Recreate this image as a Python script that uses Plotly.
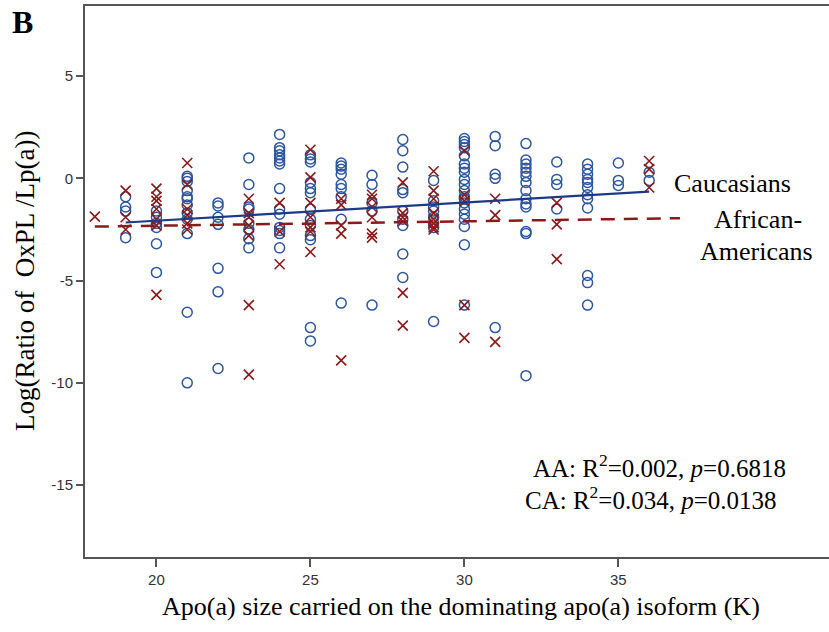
import plotly.graph_objects as go

# Caucasians (CA): apo(a) size (K) and log ratio of OxPL/Lp(a)
ca_size = [
    19, 19, 19, 19,
    20, 20, 20, 20, 20, 20,
    21, 21, 21, 21, 21, 21, 21, 21, 21, 21, 21, 21,
    22, 22, 22, 22, 22, 22, 22,
    23, 23, 23, 23, 23, 23, 23, 23,
    24, 24, 24, 24, 24, 24, 24, 24, 24, 24, 24, 24, 24, 24,
    25, 25, 25, 25, 25, 25, 25, 25, 25, 25, 25, 25, 25,
    26, 26, 26, 26, 26, 26, 26, 26, 26,
    27, 27, 27, 27, 27,
    28, 28, 28, 28, 28, 28, 28, 28, 28, 28,
    29, 29, 29, 29, 29, 29, 29, 29,
    30, 30, 30, 30, 30, 30, 30, 30, 30, 30, 30, 30, 30, 30, 30, 30, 30, 30, 30, 30,
    31, 31, 31, 31, 31,
    32, 32, 32, 32, 32, 32, 32, 32, 32, 32, 32, 32, 32, 32,
    33, 33, 33, 33,
    34, 34, 34, 34, 34, 34, 34, 34, 34, 34, 34, 34,
    35, 35, 35,
    36, 36,
]
ca_ratio = [
    -0.9, -1.4, -1.6, -2.9,
    -1.6, -1.9, -2.2, -2.4, -3.2, -4.6,
    0.1, 0.0, -0.15, -0.6, -0.9, -1.0, -1.3, -1.7, -2.0, -2.7, -6.55, -10.0,
    -1.2, -1.35, -1.9, -2.25, -4.4, -5.55, -9.3,
    1.0, -0.3, -1.4, -1.5, -2.2, -2.5, -2.95, -3.4,
    2.15, 1.5, 1.35, 1.15, 1.0, 0.85, 0.7, -0.5, -1.5, -1.75, -2.4, -2.55, -2.7, -3.4,
    1.15, 0.95, 0.8, -0.2, -0.5, -0.7, -1.5, -2.0, -2.3, -2.8, -3.0, -7.3, -7.95,
    0.75, 0.6, 0.45, 0.2, -0.3, -0.5, -0.9, -2.0, -6.1,
    0.15, -0.3, -1.2, -1.6, -6.2,
    1.9, 1.35, 0.55, -0.55, -0.7, -1.6, -2.0, -2.3, -3.7, -4.85,
    -0.1, -1.1, -1.4, -1.6, -1.9, -2.2, -2.4, -7.0,
    1.95, 1.8, 1.65, 1.5, 1.1, 0.7, 0.5, 0.3, -0.05, -0.3, -0.6, -0.9, -1.0, -1.2, -1.5, -1.75, -2.0, -2.35, -3.25, -6.2,
    2.05, 1.6, 0.2, 0.0, -7.3,
    1.7, 0.9, 0.7, 0.5, 0.3, 0.1, -0.2, -0.6, -1.0, -1.25, -1.4, -2.6, -2.7, -9.65,
    0.8, -0.05, -0.3, -1.5,
    0.7, 0.45, 0.2, -0.05, -0.2, -0.45, -0.8, -1.0, -1.45, -4.75, -5.1, -6.2,
    0.75, -0.1, -0.35,
    0.3, -0.1,
]

# African-Americans (AA)
aa_size = [
    18,
    19, 19, 19,
    20, 20, 20, 20, 20, 20, 20,
    21, 21, 21, 21, 21, 21,
    23, 23, 23, 23, 23, 23, 23,
    24, 24, 24,
    25, 25, 25, 25, 25, 25, 25,
    26, 26, 26, 26, 26,
    27, 27, 27, 27, 27, 27,
    28, 28, 28, 28, 28, 28,
    29, 29, 29, 29, 29, 29, 29, 29,
    30, 30, 30, 30, 30,
    31, 31, 31,
    33, 33, 33,
    36, 36, 36,
]
aa_ratio = [
    -1.87,
    -0.6, -1.9, -2.5,
    -0.5, -0.9, -1.1, -1.5, -2.0, -2.3, -5.7,
    0.75, -0.3, -1.5, -1.8, -2.2, -2.5,
    -1.0, -1.7, -1.9, -2.3, -2.8, -6.2, -9.6,
    -1.2, -2.6, -4.2,
    1.4, 0.05, -1.2, -1.9, -2.4, -2.6, -3.6,
    -1.0, -1.3, -2.3, -2.7, -8.9,
    -0.8, -1.0, -1.4, -1.9, -2.7, -2.9,
    -0.2, -1.7, -1.9, -2.1, -5.6, -7.2,
    0.35, -0.6, -1.0, -1.7, -2.0, -2.2, -2.4, -2.5,
    1.35, -0.8, -1.1, -6.2, -7.8,
    -1.0, -1.8, -8.0,
    -1.2, -2.25, -3.95,
    0.85, 0.45, -0.45,
]

# Regression fits (end points)
ca_fit_x = [19, 36]
ca_fit_y = [-2.16, -0.65]
aa_fit_x = [18, 37]
aa_fit_y = [-2.36, -1.95]

x_ticks = [20, 25, 30, 35]
x_tick_labels = ["20", "25", "30", "35"]
y_ticks = [5, 0, -5, -10, -15]
y_tick_labels = ["5", "0", "-5", "-10", "-15"]

BLUE = "#2c569e"
NAVY = "#1c3a86"
RED = "#8b1a1a"
SERIF = "Liberation Serif, Times New Roman, serif"
SANS = "Liberation Sans, Arial, sans-serif"
FS = 26

L, R, T, B = 85, 0, 6, 75
W, H = 829, 632
pw, ph = W - L - R, H - T - B


def px_to_paper(px, py):
    return (px - L) / pw, (H - B - py) / ph


fig = go.Figure()
fig.add_trace(go.Scatter(
    x=ca_size, y=ca_ratio, mode="markers", name="Caucasians",
    marker=dict(symbol="circle-open", size=10, color=BLUE, line=dict(width=1.5, color=BLUE)),
))
fig.add_trace(go.Scatter(
    x=aa_size, y=aa_ratio, mode="markers", name="African-Americans",
    marker=dict(symbol="x-thin-open", size=10, color=RED, line=dict(width=1.6, color=RED)),
))
fig.add_trace(go.Scatter(
    x=ca_fit_x, y=ca_fit_y, mode="lines", line=dict(color=NAVY, width=2.2),
))
fig.add_trace(go.Scatter(
    x=aa_fit_x, y=aa_fit_y, mode="lines", line=dict(color=RED, width=2.5, dash="14px,9px"),
))

ann = []
ann.append(dict(text="Caucasians", x=36.74, y=-0.27, xanchor="left", yanchor="middle",
                font=dict(family=SERIF, size=FS, color="black"), showarrow=False))
ann.append(dict(text="African-", x=38.04, y=-2.0, xanchor="left", yanchor="middle",
                font=dict(family=SERIF, size=FS, color="black"), showarrow=False))
ann.append(dict(text="Americans", x=37.58, y=-3.6, xanchor="left", yanchor="middle",
                font=dict(family=SERIF, size=FS, color="black"), showarrow=False))
ann.append(dict(text="AA: R<sup>2</sup>=0.002, <i>p</i>=0.6818", x=36.35, y=-14.08,
                xanchor="center", yanchor="middle",
                font=dict(family=SERIF, size=25, color="black"), showarrow=False))
ann.append(dict(text="CA: R<sup>2</sup>=0.034, <i>p</i>=0.0138", x=36.06, y=-15.62,
                xanchor="center", yanchor="middle",
                font=dict(family=SERIF, size=25, color="black"), showarrow=False))

bx, by = px_to_paper(22, 22)
ann.append(dict(text="<b>B</b>", x=bx, y=by, xref="paper", yref="paper",
                xanchor="center", yanchor="middle", showarrow=False,
                font=dict(family=SERIF, size=32, color="black")))
yx, yy = px_to_paper(25, 281)
ann.append(dict(text="Log(Ratio of  OxPL /Lp(a))", textangle=-90,
                x=yx, y=yy, xref="paper", yref="paper", showarrow=False,
                xanchor="center", yanchor="middle",
                font=dict(family=SERIF, size=27, color="black")))
tx, ty = px_to_paper(461, 606)
ann.append(dict(text="Apo(a) size carried on the dominating apo(a) isoform (K)",
                x=tx, y=ty, xref="paper", yref="paper", showarrow=False,
                xanchor="center", yanchor="middle",
                font=dict(family=SERIF, size=FS, color="black")))

fig.update_layout(
    width=W, height=H,
    margin=dict(l=L, r=R, t=T, b=B),
    paper_bgcolor="white", plot_bgcolor="white",
    showlegend=False,
    annotations=ann,
    xaxis=dict(
        range=[17.68, 41.84], tickvals=x_ticks, ticktext=x_tick_labels,
        ticks="outside", ticklen=8, tickwidth=1.5,
        tickcolor="#555", showline=True, linecolor="#555", linewidth=2, mirror=True,
        showgrid=False, zeroline=False,
        tickfont=dict(family=SANS, size=15, color="#333"),
    ),
    yaxis=dict(
        range=[-18.52, 8.43], tickvals=y_ticks, ticktext=y_tick_labels,
        ticks="outside", ticklen=7, tickwidth=1.5,
        tickcolor="#555", showline=True, linecolor="#555", linewidth=2,
        showgrid=False, zeroline=False,
        tickfont=dict(family=SANS, size=15, color="#333"),
    ),
)

fig.write_html("out.html", config={"displayModeBar": False},
               post_script="document.body.style.margin='0';")
